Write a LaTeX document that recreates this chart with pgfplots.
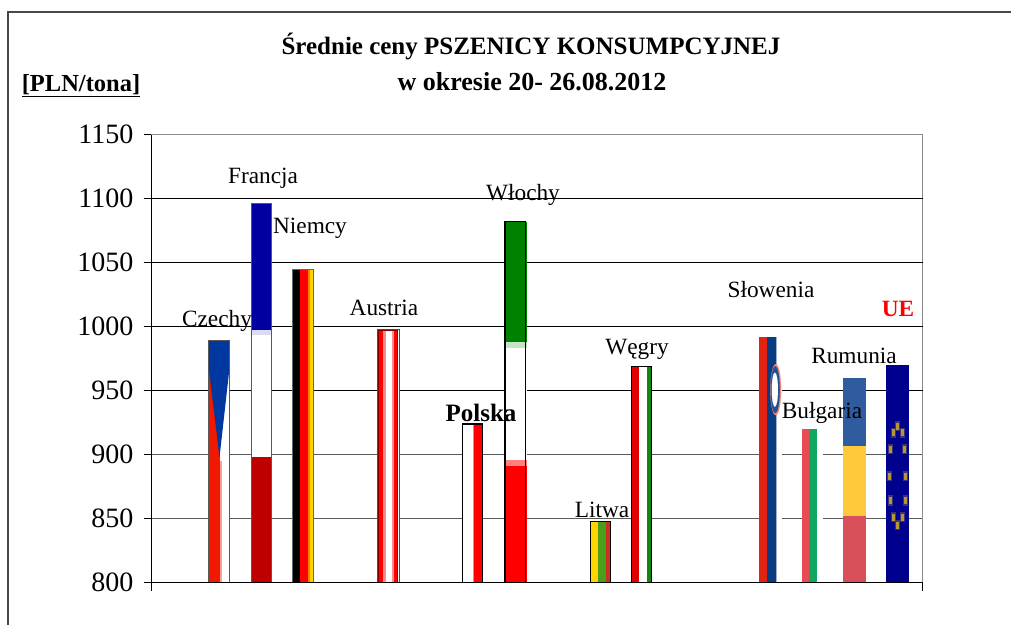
\documentclass[border=0pt]{standalone}
\usepackage{fontspec}
\setmainfont{Liberation Serif}
\usepackage{pgfplots}
\pgfplotsset{compat=1.18}
\definecolor{frblue}{HTML}{0000A0}
\definecolor{frpale}{HTML}{DCDCF0}
\definecolor{frred}{HTML}{BE0000}
\definecolor{czblue}{HTML}{0038A0}
\definecolor{czred}{HTML}{F01800}
\definecolor{itgreen}{HTML}{008000}
\definecolor{itpale}{HTML}{C4E4C4}
\definecolor{itpink}{HTML}{FF8080}
\definecolor{ltyellow}{HTML}{FFD500}
\definecolor{ltgreen}{HTML}{4A9E1C}
\definecolor{ltred}{HTML}{C83020}
\definecolor{hugreen}{HTML}{108810}
\definecolor{hured}{HTML}{E00000}
\definecolor{sired}{HTML}{E32212}
\definecolor{siblue}{HTML}{0A3C82}
\definecolor{bgred}{HTML}{E84C50}
\definecolor{bggreen}{HTML}{10A860}
\definecolor{roblue}{HTML}{2E5C9E}
\definecolor{royellow}{HTML}{FFC93C}
\definecolor{rored}{HTML}{D94F5A}
\definecolor{eublue}{HTML}{00008F}
\definecolor{eugold}{HTML}{B8962E}
\definecolor{euhalo}{HTML}{3C3478}
% colour, width, shift, slot, value
\newcommand\st[5]{\addplot[ybar,fill=#1,draw=none,bar width=#2pt,bar shift=#3pt,forget plot] coordinates {(#4,#5)};}
% outline: colour, width, shift, slot, value
\newcommand\ol[5]{\addplot[ybar,fill=none,draw=#1,line width=1.1pt,bar width=#2pt,bar shift=#3pt,forget plot] coordinates {(#4,#5)};}
\newcommand\lab[4][]{\node[inner sep=0pt,#1] at (#2,625-#3) {\fontsize{23.3}{28}\selectfont #4};}
\begin{document}
\begin{tikzpicture}[x=1pt,y=1pt]
\path[use as bounding box] (0,0) rectangle (1011,625);
\draw[black!72,line width=2pt] (8,0)--(8,612.5)--(1011,612.5);
\begin{axis}[
  at={(151.5pt,42.3pt)},anchor=south west,
  scale only axis,width=771pt,height=448pt,
  xmin=-0.592,xmax=17.592,ymin=800,ymax=1150,
  xtick={-0.592,17.592},xticklabels={,},
  ytick={800,850,900,950,1000,1050,1100,1150},
  extra y ticks={950,1000,1050,1100},
  extra y tick labels={},
  extra y tick style={grid style={black,line width=0.9pt}},
  ymajorgrids,
  grid style={black!65,line width=1pt},
  axis line style={black!45,line width=1pt},
  tick style={black,line width=0.8pt},
  major tick length=8pt,
  tick align=outside,
  tick pos=left,
  /pgf/number format/assume math mode=true,
  /pgf/number format/set thousands separator={},
  yticklabel style={font=\fontsize{28}{30}\selectfont,inner sep=0pt,xshift=-10pt},
]
% Czechy
\st{white}{21.7}{0.15}{1}{989.5}
\st{czred}{11}{-4.5}{1}{989.5}
\st{czred!40}{1.5}{1.75}{1}{895}
\addplot[fill=czblue,draw=none,forget plot] coordinates {(0.748,989.5)(1.259,989.5)(1.259,971)(1.012,898)(0.748,971)} --cycle;
\ol{black!65}{21.4}{0.15}{1}{989.5}
% Francja
\st{frblue}{20.4}{-0.1}{2}{1096}
\st{frpale}{20.4}{-0.1}{2}{997.6}
\st{white}{20.4}{-0.1}{2}{993.7}
\st{frred}{20.4}{-0.1}{2}{898}
\ol{black!65}{20}{-0.1}{2}{1096}
% Niemcy
\st{white}{21}{-1}{3}{1044.5}
\st{black}{7.7}{-7.65}{3}{1044.5}
\st{red}{8.3}{0.35}{3}{1044.5}
\st{orange}{1.7}{5.35}{3}{1044.5}
\st{ltyellow}{2.5}{7.45}{3}{1044.5}
\ol{black!60}{21}{-1}{3}{1044.5}
% Austria
\st{white}{21.6}{-0.1}{5}{997.6}
\st{red}{5}{-8.1}{5}{997.6}
\st{red!45}{2.5}{-4.3}{5}{997.6}
\st{red}{4.3}{7.55}{5}{997.6}
\st{red!45}{1.5}{4.6}{5}{997.6}
\ol{red}{21.4}{-0.1}{5}{997.6}
\ol{red!50!black}{18.8}{-0.4}{5}{997}
% Polska
\st{white}{21}{-0.6}{7}{924}
\st{itpink}{3}{1.1}{7}{924}
\st{red}{9.3}{5.25}{7}{924}
\ol{black}{20.4}{-0.9}{7}{924}
% Wlochy
\st{itgreen}{22.4}{-0.05}{8}{1082}
\st{itpale}{22.4}{-0.05}{8}{988}
\st{white}{22.4}{-0.05}{8}{983.6}
\st{itpink}{22.4}{-0.05}{8}{896}
\st{red}{22.4}{-0.05}{8}{891.4}
\ol{black}{20.4}{-0.6}{8}{1082}
% Litwa
\st{ltyellow}{7.6}{-6.1}{10}{848}
\st{ltgreen}{7.7}{1.55}{10}{848}
\st{ltred}{5.3}{8.05}{10}{848}
\ol{black}{20.2}{-0.2}{10}{848}
% Wegry
\st{hured}{8}{-8}{11}{969}
\st{white}{8}{0}{11}{969}
\st{hugreen}{5.3}{6.65}{11}{969}
\ol{black}{20.3}{-1.65}{11}{969}
% Slowenia
\st{white}{23}{0.3}{14}{992}
\st{sired}{7.7}{-7.35}{14}{992}
\st{siblue}{9.3}{1.15}{14}{992}
\st{siblue!40}{1.2}{6.4}{14}{992}
\addplot[only marks,mark=*,mark size=25.5pt,mark options={xscale=0.21,line width=0.1pt,draw=sired!55,fill=sired!55},forget plot] coordinates {(14.13,950.8)};
\addplot[only marks,mark=*,mark size=23.5pt,mark options={xscale=0.19,line width=0.1pt,draw=siblue!90,fill=siblue!90},forget plot] coordinates {(14.12,950.8)};
\addplot[only marks,mark=*,mark size=17pt,mark options={xscale=0.18,line width=0.1pt,draw=white,fill=white},forget plot] coordinates {(14.11,950.8)};
% Bulgaria
\st{white}{21}{-0.1}{15}{920}
\st{bgred}{6.7}{-7.25}{15}{920}
\st{bggreen}{8.3}{0.25}{15}{920}
% Rumunia
\st{roblue}{23}{-0.5}{16}{960}
\st{royellow}{23}{-0.5}{16}{907}
\st{rored}{23}{-0.5}{16}{852}
% UE
\st{eublue}{23}{0.1}{17}{970}
\addplot[only marks,mark=square*,mark size=3pt,mark options={xscale=0.7,yscale=1.6,line width=0.1pt,draw=euhalo,fill=euhalo},forget plot] coordinates {
 (17,922.7)(16.889,917.4)(17.111,917.4)(16.818,904.7)(17.158,904.7)(16.811,883.6)(17.189,883.6)(16.823,864.4)(17.177,864.4)(16.889,851.6)(17.111,851.6)(17,845.3)};
\addplot[only marks,mark=square*,mark size=2pt,mark options={xscale=0.5,yscale=1.5,line width=0.1pt,draw=eugold,fill=eugold},forget plot] coordinates {
 (17,922.7)(16.889,917.4)(17.111,917.4)(16.818,904.7)(17.158,904.7)(16.811,883.6)(17.189,883.6)(16.823,864.4)(17.177,864.4)(16.889,851.6)(17.111,851.6)(17,845.3)};
\end{axis}
\draw[black,line width=0.9pt] (151.5,34.5)--(151.5,490.3);
\draw[black,line width=0.9pt] (151.5,42.3)--(922.5,42.3);
\lab{263}{178}{Francja}
\lab{310}{228}{Niemcy}
\lab{217}{321}{Czechy}
\lab{384}{308}{Austria}
\node[inner sep=0pt] at (481,625-413) {\fontsize{25}{28}\selectfont\bfseries Polska};
\lab{523}{195}{Włochy}
\lab{602}{510}{Litwa}
\lab{637}{349}{Węgry}
\lab{771}{290}{Słowenia}
\lab{822}{413}{Bułgaria}
\lab{854}{356}{Rumunia}
\lab{898}{309}{\textcolor{red}{\textbf{UE}}}
\node[inner sep=0pt] at (531,625-46) {\fontsize{25}{30}\selectfont\bfseries Średnie ceny PSZENICY KONSUMPCYJNEJ};
\node[inner sep=0pt] at (532,625-82) {\fontsize{26}{30}\selectfont\bfseries w okresie 20- 26.08.2012};
\node[inner sep=0pt] at (81,625-86) {\fontsize{24.5}{28}\selectfont\bfseries \underline{[PLN/tona]}};
\end{tikzpicture}
\end{document}
